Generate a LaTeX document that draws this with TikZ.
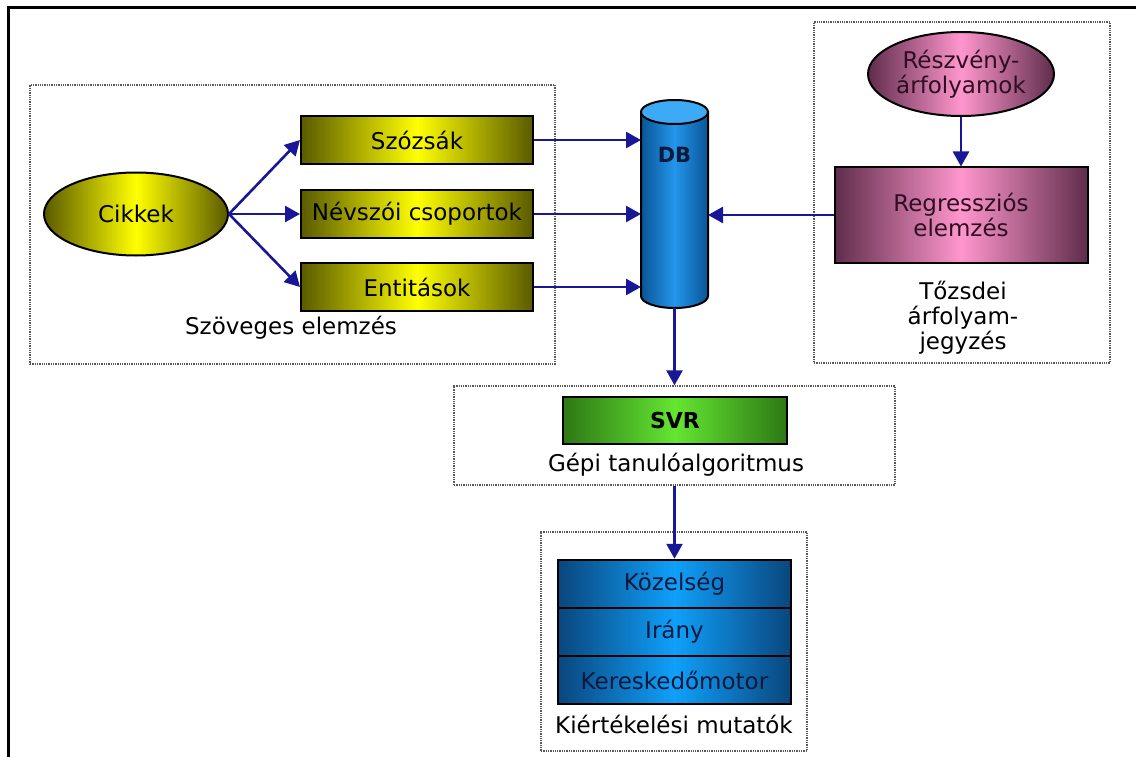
\documentclass[tikz,border=0pt]{standalone}
\usepackage{fontspec}
\setmainfont{DejaVu Sans}
\usetikzlibrary{arrows.meta,shapes.geometric}
\definecolor{flowblue}{RGB}{24,24,150}
\definecolor{olivedark}{RGB}{90,90,0}
\definecolor{pinkdark}{RGB}{95,45,75}
\definecolor{pinklight}{RGB}{255,150,205}
\definecolor{bluedark}{RGB}{10,70,125}
\definecolor{bluelight}{RGB}{15,160,250}
\definecolor{greendark}{RGB}{45,120,20}
\definecolor{greenlight}{RGB}{100,230,50}
\definecolor{dbdark}{RGB}{10,85,150}
\definecolor{dblight}{RGB}{35,150,235}
\definecolor{dbtop}{RGB}{60,170,245}
\definecolor{navytext}{RGB}{10,25,60}
\definecolor{plumtext}{RGB}{45,15,35}
\tikzset{
  flow/.style={-{Triangle[length=15pt,width=16pt]},line width=2.6pt,flowblue},
  grpbox/.style={draw=gray!70!black,densely dotted,line width=1.3pt},
  yellowbox/.style={draw,line width=2pt,left color=olivedark,right color=olivedark,
    middle color=yellow,minimum width=232pt,minimum height=48pt},
  pinkbox/.style={draw,line width=2pt,left color=pinkdark,right color=pinkdark,
    middle color=pinklight,text=plumtext,align=center},
  metricbox/.style={draw,line width=2.5pt,left color=bluedark,right color=bluedark,
    middle color=bluelight,text=navytext,minimum width=233pt,minimum height=48pt}
}

\begin{document}
\begin{tikzpicture}[x=1pt,y=-1pt,font=\fontsize{23}{25}\selectfont]
    \useasboundingbox (0,0) rectangle (1136,757);
    \draw[line width=3pt] (8,757) -- (8,8) -- (1136,8);

    \node[grpbox,minimum width=525pt,minimum height=279pt] (grptext) at (292.5,224.5) {};
    \node[grpbox,minimum width=296pt,minimum height=341pt] (grpstock) at (962,192.5) {};
    \node[grpbox,minimum width=441pt,minimum height=99pt] (grpml) at (674.5,435.5) {};
    \node[grpbox,minimum width=266pt,minimum height=219pt] (grpeval) at (674,641.5) {};

    \node[yellowbox,ellipse,minimum width=184pt,minimum height=83pt] (cikkek) at (136,214) {Cikkek};
    \node[yellowbox] (bow) at (417,140) {Szózsák};
    \node[yellowbox] (nphrase) at (417,214) {Névszói csoportok};
    \node[yellowbox] (entity) at (417,287) {Entitások};
    \node (lbltext) at (291,328) {Szöveges elemzés};

    \node[minimum width=67pt,minimum height=208pt,inner sep=0pt,outer sep=0pt] (db) at (674.5,204) {};
    \shade[left color=dbdark,right color=dbdark,middle color=dblight,draw,line width=2pt]
      ([yshift=-12pt]db.north west) -- ([yshift=12pt]db.south west)
      arc[start angle=180,end angle=360,x radius=33.5pt,y radius=12pt]
      -- ([yshift=-12pt]db.north east) -- cycle;
    \filldraw[fill=dbtop,line width=2pt] ([yshift=-12pt]db.north) ellipse [x radius=33.5pt,y radius=12pt];
    \node[font=\fontsize{21}{25}\selectfont\bfseries,text=navytext] (dblabel) at (674.5,155) {DB};

    \node[pinkbox,ellipse,minimum width=186pt,minimum height=84pt,inner sep=0pt] (stockprice) at (961,74) {Részvény-\\árfolyamok};
    \node[pinkbox,minimum width=253pt,minimum height=95pt] (regr) at (961,215) {Regressziós\\elemzés};
    \node[align=center] (lblstock) at (963,318) {Tőzsdei\\árfolyam-\\jegyzés};

    \node[draw,line width=2pt,left color=greendark,right color=greendark,middle color=greenlight,
      minimum width=224pt,minimum height=47pt,font=\fontsize{22}{25}\selectfont\bfseries] (svr) at (675,420.5) {SVR};
    \node (lblml) at (676,465) {Gépi tanulóalgoritmus};

    \node[metricbox] (close) at (674.5,584) {Közelség};
    \node[metricbox] (direction) at (674.5,632) {Irány};
    \node[metricbox] (trader) at (674.5,680) {Kereskedőmotor};
    \node (lbleval) at (674,724) {Kiértékelési mutatók};

    \draw[flow] (cikkek.east) -- (bow.west);
    \draw[flow] (cikkek.east) -- (nphrase.west);
    \draw[flow] (cikkek.east) -- (entity.west);
    \draw[flow] (bow.east) -- (bow.east -| db.west);
    \draw[flow] (nphrase.east) -- (nphrase.east -| db.west);
    \draw[flow] (entity.east) -- (entity.east -| db.west);
    \draw[flow] (stockprice.south) -- (regr.north);
    \draw[flow] (regr.west) -- (regr.west -| db.east);
    \draw[flow] (db.south) -- (grpml.north);
    \draw[flow] (grpml.south) -- (close.north);
\end{tikzpicture}
\end{document}
